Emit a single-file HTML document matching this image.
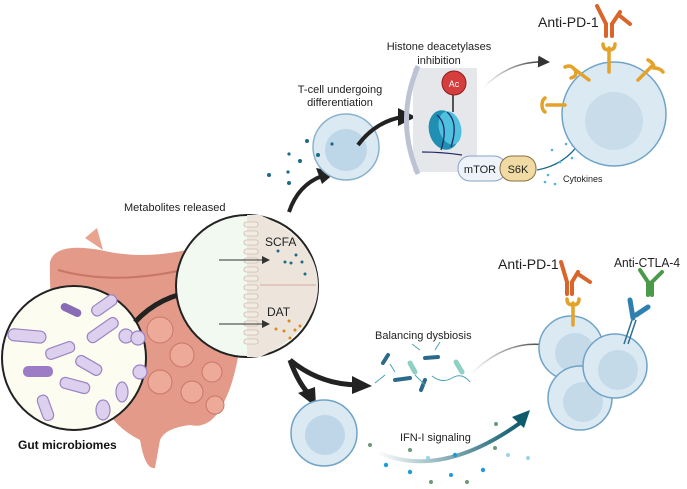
<!DOCTYPE html>
<html><head><meta charset="utf-8"><style>
html,body{margin:0;padding:0;background:#fff;}
svg{display:block;font-family:"Liberation Sans",sans-serif;}
</style></head><body>
<svg width="687" height="489" viewBox="0 0 687 489" xmlns="http://www.w3.org/2000/svg">
<defs>
<linearGradient id="ifn" x1="0" x2="1"><stop offset="0" stop-color="#fff"/><stop offset="1" stop-color="#0e5b6e"/></linearGradient>
<linearGradient id="gr" x1="0" x2="1"><stop offset="0" stop-color="#fff"/><stop offset="1" stop-color="#222"/></linearGradient>
<marker id="ah" markerWidth="8" markerHeight="8" refX="6" refY="4" orient="auto"><path d="M0,0 L8,4 L0,8z" fill="#333"/></marker>
<marker id="ahb" markerWidth="8" markerHeight="8" refX="6" refY="4" orient="auto"><path d="M0,0 L8,4 L0,8z" fill="#0e5b6e"/></marker>
</defs>
<!-- intestine -->
<path d="M85,238 L97,228 L103,250 Z" fill="#e9a48f"/>
<path d="M50,262 Q55,242 100,250 Q150,262 205,245 Q225,235 238,250 L245,300 Q240,370 225,400 Q212,430 190,425 Q165,428 160,440 L155,468 Q145,470 140,440 Q120,430 110,415 L70,385 Q48,320 50,262 Z" fill="#e39a88"/>
<path d="M58,270 Q130,290 225,258" stroke="#c9766a" stroke-width="2" fill="none"/>
<g fill="#eeaa98" stroke="#c9766a" stroke-width="1">
<circle cx="160" cy="330" r="13"/><circle cx="182" cy="355" r="12"/><circle cx="160" cy="382" r="12"/><circle cx="192" cy="392" r="11"/><circle cx="212" cy="372" r="10"/><circle cx="215" cy="405" r="9"/>
</g>
<!-- microbiome circle -->
<circle cx="74" cy="358" r="72" fill="#fdfcf1" stroke="#222" stroke-width="2"/>
<g fill="#ddd0ee" stroke="#9a84c2" stroke-width="1.2">
<rect x="8" y="330" width="38" height="12" rx="6" transform="rotate(5 28 336)"/>
<rect x="90" y="300" width="28" height="11" rx="5" transform="rotate(-35 104 305)"/>
<rect x="85" y="325" width="35" height="11" rx="5" transform="rotate(-35 102 330)"/>
<rect x="45" y="345" width="30" height="11" rx="5" transform="rotate(-20 60 350)"/>
<rect x="75" y="360" width="28" height="11" rx="5" transform="rotate(30 89 365)"/>
<rect x="60" y="380" width="30" height="11" rx="5" transform="rotate(15 75 385)"/>
<rect x="40" y="395" width="11" height="26" rx="5" transform="rotate(-20 45 408)"/>
<ellipse cx="103" cy="410" rx="7" ry="10"/><ellipse cx="122" cy="392" rx="6" ry="10"/>
<circle cx="126" cy="336" r="7"/><circle cx="138" cy="338" r="7"/><circle cx="140" cy="372" r="7"/>
</g>
<rect x="60" y="306" width="22" height="8" rx="4" fill="#8a6bb5" transform="rotate(25 71 310)"/>
<rect x="23" y="366" width="30" height="11" rx="5" fill="#9c7cc4"/>
<text x="18" y="449" font-size="12" font-weight="bold" fill="#111">Gut microbiomes</text>
<!-- arrow microbiome to big circle -->
<path d="M135,322 Q160,295 198,291" stroke="#222" stroke-width="5" fill="none"/>
<path d="M193,281 L214,292 L194,302 Z" fill="#222"/>
<!-- big circle -->
<circle cx="247" cy="286" r="71" fill="#f2f9f1" stroke="#222" stroke-width="2"/>
<path d="M247,215 L260,215 Q318,240 318,286 Q318,330 260,357 L247,357 Z" fill="#ede4dc"/>
<g fill="#f3ece3" stroke="#b9a99a" stroke-width="0.6">
<rect x="244" y="222" width="14" height="5" rx="2"/><rect x="244" y="231" width="14" height="5" rx="2"/><rect x="244" y="240" width="14" height="5" rx="2"/><rect x="244" y="249" width="14" height="5" rx="2"/><rect x="244" y="258" width="14" height="5" rx="2"/><rect x="244" y="267" width="14" height="5" rx="2"/><rect x="244" y="276" width="14" height="5" rx="2"/><rect x="244" y="285" width="14" height="5" rx="2"/><rect x="244" y="294" width="14" height="5" rx="2"/><rect x="244" y="303" width="14" height="5" rx="2"/><rect x="244" y="312" width="14" height="5" rx="2"/><rect x="244" y="321" width="14" height="5" rx="2"/><rect x="244" y="330" width="14" height="5" rx="2"/><rect x="244" y="339" width="14" height="5" rx="2"/>
</g>
<line x1="260" y1="285" x2="316" y2="285" stroke="#d9a9a0"/>
<text x="265" y="246" font-size="12" fill="#222">SCFA</text>
<text x="267" y="316" font-size="12" fill="#222">DAT</text>
<line x1="219" y1="260" x2="268" y2="260" stroke="#333" marker-end="url(#ah)"/>
<line x1="219" y1="324" x2="268" y2="324" stroke="#333" marker-end="url(#ah)"/>
<g fill="#1b6b86"><circle cx="278" cy="251" r="1.5"/><circle cx="285" cy="262" r="1.5"/><circle cx="291" cy="263" r="1.5"/><circle cx="296" cy="255" r="1.5"/><circle cx="302" cy="262" r="1.5"/><circle cx="305" cy="274" r="1.5"/></g>
<g fill="#d88a1a"><circle cx="276" cy="329" r="1.5"/><circle cx="284" cy="331" r="1.5"/><circle cx="289" cy="321" r="1.5"/><circle cx="295" cy="330" r="1.5"/><circle cx="300" cy="326" r="1.5"/><circle cx="290" cy="338" r="1.5"/></g>
<text x="124" y="211" font-size="11" fill="#222">Metabolites released</text>
<!-- arrow from circle to T cell -->
<path d="M289,212 Q298,185 322,176" stroke="#222" stroke-width="4" fill="none"/>
<path d="M316,168 L336,172 L322,184 Z" fill="#222"/>
<!-- T cell -->
<circle cx="346" cy="147" r="33" fill="#dbe9f3" stroke="#8bb2cc" stroke-width="1.5"/>
<circle cx="346" cy="150" r="21" fill="#bdd6e8"/>
<g fill="#1b6b86"><circle cx="307" cy="141" r="2"/><circle cx="318" cy="155" r="2"/><circle cx="300" cy="161" r="2"/><circle cx="289" cy="154" r="1.6"/><circle cx="288" cy="172" r="1.6"/><circle cx="269" cy="175" r="2"/><circle cx="289" cy="183" r="2"/><circle cx="332" cy="144" r="1.6"/></g>
<text x="340" y="93" font-size="11" text-anchor="middle" fill="#222">T-cell undergoing</text>
<text x="340" y="106" font-size="11" text-anchor="middle" fill="#222">differentiation</text>
<path d="M358,145 Q375,122 402,117" stroke="#222" stroke-width="4" fill="none"/>
<path d="M398,108 L416,117 L398,126 Z" fill="#222"/>
<!-- histone panel -->
<rect x="413" y="68" width="64" height="104" fill="#e6e7ea"/>
<path d="M418,66 Q395,120 418,174" stroke="#bcc4d4" stroke-width="5" fill="none"/>
<ellipse cx="444" cy="130" rx="15" ry="20" fill="#1f8fb3" transform="rotate(-15 444 130)"/>
<ellipse cx="450" cy="128" rx="11" ry="17" fill="#4fc0de" transform="rotate(-15 450 128)"/>
<path d="M437,115 q12,10 4,35 M447,112 q12,10 4,35 M422,152 q20,0 40,3" stroke="#222a6a" stroke-width="1.3" fill="none"/>
<line x1="453" y1="94" x2="453" y2="112" stroke="#222" stroke-width="1.5"/>
<circle cx="454" cy="83" r="12" fill="#d63d3d" stroke="#8a1f1f"/>
<text x="454" y="87" font-size="9" text-anchor="middle" fill="#fff">Ac</text>
<text x="439" y="50" font-size="11" text-anchor="middle" fill="#222">Histone deacetylases</text>
<text x="439" y="64" font-size="11" text-anchor="middle" fill="#222">inhibition</text>
<rect x="458" y="156" width="48" height="25" rx="12" fill="#eef3fa" stroke="#8aa0c0"/>
<text x="480" y="173" font-size="11" text-anchor="middle" fill="#222">mTOR</text>
<rect x="500" y="156" width="36" height="25" rx="12" fill="#f1dba4" stroke="#8a7040"/>
<text x="518" y="173" font-size="11" text-anchor="middle" fill="#222">S6K</text>
<path d="M483,88 Q510,60 547,62" stroke="url(#gr)" stroke-width="1.5" fill="none" marker-end="url(#ah)"/>
<path d="M537,170 Q565,165 580,142" stroke="#1b6b86" stroke-width="1.3" fill="none" marker-end="url(#ahb)"/>
<g fill="#4fb5d8"><circle cx="548" cy="175" r="1.3"/><circle cx="560" cy="162" r="1.3"/><circle cx="555" cy="184" r="1.3"/><circle cx="572" cy="158" r="1.3"/><circle cx="545" cy="182" r="1.3"/><circle cx="566" cy="144" r="1.3"/><circle cx="552" cy="150" r="1.3"/></g>
<text x="563" y="182" font-size="9" fill="#222">Cytokines</text>
<!-- big cell top right -->
<circle cx="614" cy="114" r="52" fill="#dbe9f3" stroke="#6fa3c6" stroke-width="1.5"/>
<circle cx="614" cy="121" r="29" fill="#c8dcea"/>
<g stroke="#e3a22a" stroke-width="3.5" fill="none" stroke-linecap="round">
<path d="M609,72 v-24 M603,44 q0,6 6,6 q6,0 6,-6"/>
<path d="M589,80 l-16,-12 M565,67 q6,-3 10,3 q3,6 -4,8"/>
<path d="M565,105 l-18,0 M545,98 q-3,2 -3,7 q0,5 3,7"/>
<path d="M638,80 l14,-14 M648,60 q6,3 6,8 q6,0 9,4"/>
</g>
<g stroke="#d9652a" stroke-width="4" stroke-linecap="round"><line x1="606" y1="36" x2="606" y2="24"/><line x1="612" y1="36" x2="612" y2="24"/><line x1="606" y1="24" x2="597" y2="6"/><line x1="612" y1="24" x2="620" y2="12"/><line x1="620" y1="16" x2="630" y2="24"/></g>
<text x="538" y="27" font-size="14" fill="#222">Anti-PD-1</text>
<!-- lower arrows from big circle -->
<path d="M290,360 Q320,385 360,385" stroke="#222" stroke-width="5" fill="none"/>
<path d="M352,376 L372,386 L352,394 Z" fill="#222"/>
<path d="M290,360 Q297,380 307,392" stroke="#222" stroke-width="5" fill="none"/>
<path d="M298,393 L316,407 L315,387 Z" fill="#222"/>
<text x="375" y="339" font-size="11" fill="#222">Balancing dysbiosis</text>
<g stroke="#2b6a8a" stroke-width="4" stroke-linecap="round"><line x1="383" y1="363" x2="388" y2="355"/><line x1="421" y1="390" x2="425" y2="380"/><line x1="395" y1="380" x2="410" y2="378"/><line x1="425" y1="358" x2="438" y2="357"/></g>
<g stroke="#4aa4b8" stroke-width="1" fill="none"><path d="M385,375 l-10,8 M415,375 l10,10 M435,350 l5,-8 M420,350 l-8,-6 M395,372 l-5,-8"/><path d="M432,376 q10,8 20,2 q10,-6 18,4"/></g>
<g stroke="#8fd0c4" stroke-width="5" stroke-linecap="round"><line x1="410" y1="363" x2="415" y2="372"/><line x1="456" y1="362" x2="462" y2="372"/></g>
<path d="M470,375 Q510,335 555,347" stroke="url(#gr)" stroke-width="1.5" fill="none" marker-end="url(#ah)"/>
<!-- cell lower left -->
<circle cx="324" cy="433" r="33" fill="#dbe9f3" stroke="#6fa3c6" stroke-width="1.5"/>
<circle cx="325" cy="435" r="20" fill="#bed6e8"/>
<path d="M377,452 Q440,480 520,423" stroke="url(#ifn)" stroke-width="4" fill="none"/>
<path d="M512,417 L530,410 L524,428 Z" fill="#0e5b6e"/>
<text x="400" y="441" font-size="11" fill="#222">IFN-I signaling</text>
<g fill="#1e9cd8"><circle cx="386" cy="465" r="2.2"/><circle cx="410" cy="472" r="2.2"/><circle cx="455" cy="455" r="2.2"/><circle cx="483" cy="470" r="2.2"/><circle cx="451" cy="475" r="2"/></g>
<g fill="#9ad3ea"><circle cx="428" cy="458" r="2"/><circle cx="508" cy="455" r="2"/><circle cx="528" cy="458" r="2"/></g>
<g fill="#6a9a78"><circle cx="370" cy="445" r="2"/><circle cx="410" cy="450" r="2"/><circle cx="431" cy="482" r="2"/><circle cx="467" cy="482" r="2"/><circle cx="495" cy="448" r="2"/><circle cx="496" cy="424" r="2"/></g>
<!-- lower right cells -->
<circle cx="571" cy="348" r="32" fill="#dbe9f3" stroke="#6fa3c6" stroke-width="1.5"/>
<circle cx="575" cy="353" r="20" fill="#c4dae9"/>
<circle cx="580" cy="398" r="32" fill="#dbe9f3" stroke="#6fa3c6" stroke-width="1.5"/>
<circle cx="583" cy="402" r="20" fill="#c4dae9"/>
<circle cx="615" cy="366" r="32" fill="#dbe9f3" stroke="#6fa3c6" stroke-width="1.5"/>
<circle cx="618" cy="370" r="20" fill="#c4dae9"/>
<g stroke="#e3a22a" stroke-width="3.5" fill="none" stroke-linecap="round"><path d="M573,325 v-22 M567,299 q0,6 6,6 q6,0 6,-6"/></g>
<g stroke="#d9652a" stroke-width="4" stroke-linecap="round"><line x1="567" y1="294" x2="567" y2="282"/><line x1="572" y1="294" x2="572" y2="282"/><line x1="567" y1="282" x2="561" y2="262"/><line x1="572" y1="282" x2="578" y2="272"/><line x1="578" y1="274" x2="590" y2="282"/></g>
<g stroke="#2f6f90" stroke-width="1.5"><line x1="624" y1="344" x2="632" y2="320"/><line x1="628" y1="344" x2="636" y2="320"/></g>
<g stroke="#2f7fb0" stroke-width="5" stroke-linecap="round"><line x1="633" y1="318" x2="630" y2="300"/><line x1="636" y1="315" x2="648" y2="307"/></g>
<g stroke="#4a9a4a" stroke-width="4" stroke-linecap="round"><line x1="648" y1="295" x2="648" y2="282"/><line x1="652" y1="295" x2="652" y2="282"/><line x1="648" y1="282" x2="640" y2="270"/><line x1="652" y1="282" x2="662" y2="272"/></g>
<text x="498" y="269" font-size="14" fill="#222">Anti-PD-1</text>
<text x="614" y="267" font-size="13" textLength="66" lengthAdjust="spacingAndGlyphs" fill="#222">Anti-CTLA-4</text>
</svg>
</body></html>
